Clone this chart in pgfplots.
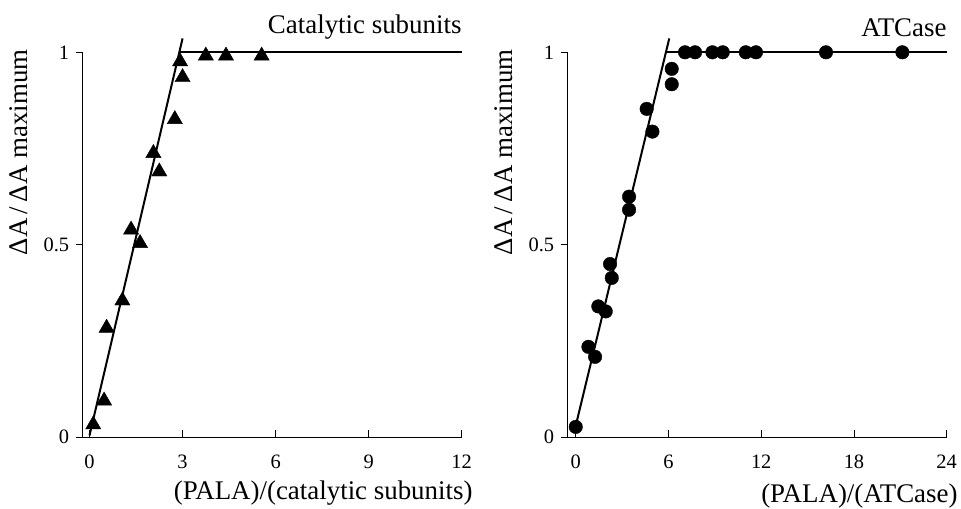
\documentclass[border=0pt]{standalone}
\usepackage{fontspec}
\setmainfont{Liberation Serif}
\usepackage{pgfplots}
\pgfplotsset{compat=1.18}

\pgfplotstableread{
x y
0.12 0.033
0.47 0.095
0.55 0.284
1.06 0.355
1.34 0.539
1.63 0.504
2.06 0.738
2.25 0.690
2.75 0.826
2.92 0.976
3.00 0.935
3.75 0.991
4.40 0.991
5.55 0.991
}\catdata

\pgfplotstableread{
x y
0.00 0.027
0.82 0.235
1.25 0.209
1.46 0.340
1.94 0.327
2.22 0.450
2.33 0.414
3.45 0.625
3.45 0.591
4.59 0.853
4.96 0.794
6.21 0.957
6.21 0.917
7.07 1
7.72 1
8.84 1
9.51 1
11.00 1
11.66 1
16.19 1
21.13 1
}\atcdata

\pgfplotsset{
  panel/.style={
    scale only axis, width=379bp, height=385bp,
    axis x line*=bottom, axis y line*=left,
    ymin=0, ymax=1, ytick={0,0.5,1},
    clip=false,
    xtick align=inside, ytick align=outside,
    major tick length=7bp,
    tick style={black, line width=0.9pt},
    axis line style={line width=1.1pt},
    /pgf/number format/assume math mode=true,
    tick label style={font=\fontsize{20.5}{24}\selectfont},
    yticklabel style={xshift=-3bp},
    xticklabel style={yshift=-14bp},
    label style={font=\fontsize{27}{32}\selectfont},
    ylabel={ΔA\,/\,ΔA maximum},
    ylabel style={at={(ticklabel cs:0.74)}, yshift=9bp},
    xlabel style={at={(rel axis cs:1,0)}, anchor=base east, inner sep=0pt},
    fit/.style={black, line width=2pt},
  },
}

\begin{document}
\begin{tikzpicture}
\path (0bp,0bp) rectangle (961bp,508bp);

\begin{axis}[panel, at={(82.7bp,70.7bp)}, anchor=south west,
  xmin=-0.22, xmax=12, xtick={0,3,...,12},
  xlabel={(PALA)/(catalytic subunits)},
  xlabel style={xshift=11bp, yshift=-62bp}]
  \addplot[fit] coordinates {(0,0.005) (3.0,1.036)};
  \addplot[fit] coordinates {(2.92,1) (12,1)};
  \addplot[only marks, mark=triangle*, mark size=8.8pt, black] table[x=x,y=y] {\catdata};
  \node[anchor=base east, inner sep=0pt, font=\fontsize{27}{32}\selectfont]
    at (rel axis cs:1,1) [yshift=19bp] {Catalytic subunits};
\end{axis}

\begin{axis}[panel, at={(567.7bp,70.7bp)}, anchor=south west,
  xmin=-0.52, xmax=24, xtick={0,6,...,24},
  xlabel={(PALA)/(ATCase)},
  xlabel style={xshift=11bp, yshift=-65bp}]
  \addplot[fit] coordinates {(0,0.03) (6.05,1.036)};
  \addplot[fit] coordinates {(5.9,1) (24,1)};
  \addplot[only marks, mark=*, mark size=6.8pt, black] table[x=x,y=y] {\atcdata};
  \node[anchor=base east, inner sep=0pt, font=\fontsize{27}{32}\selectfont]
    at (rel axis cs:1,1) [yshift=15.5bp] {ATCase};
\end{axis}
\end{tikzpicture}
\end{document}
